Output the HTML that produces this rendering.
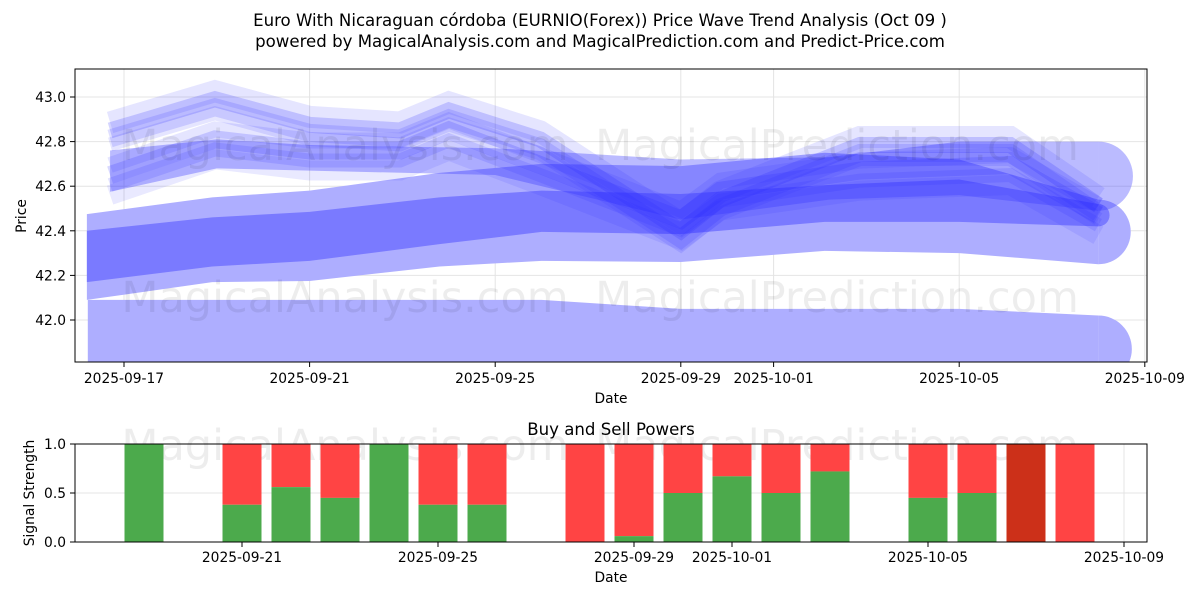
<!DOCTYPE html>
<html><head><meta charset="utf-8"><style>
body{margin:0;background:#fff;}
svg{display:block;font-family:"DejaVu Sans","Liberation Sans",sans-serif;}
</style></head><body>
<svg id="c" width="1200" height="600" xmlns="http://www.w3.org/2000/svg"></svg>
<script>
const tickDays=[0,4,8,12,14,18,22];
const tickLabels=["2025-09-17","2025-09-21","2025-09-25","2025-09-29","2025-10-01","2025-10-05","2025-10-09"];
const botTickDays=[4,8,12,14,18,22];
const botTickLabels=["2025-09-21","2025-09-25","2025-09-29","2025-10-01","2025-10-05","2025-10-09"];
const priceTicks=[42.0,42.2,42.4,42.6,42.8,43.0];
const bandDays=[-0.8,1.9,4.0,6.8,9.0,12.0,15.1,18.0,21.0];
const midTop=[42.475,42.55,42.58,42.66,42.70,42.69,42.75,42.72,42.54];
const midBot=[42.09,42.17,42.175,42.24,42.265,42.26,42.31,42.30,42.25];
const innerTop=[42.40,42.46,42.485,42.55,42.58,42.565,42.605,42.63,42.52];
const innerBot=[42.17,42.24,42.265,42.34,42.395,42.385,42.44,42.44,42.42];
const lowDays=[-0.78,4,9,12,18,21];
const lowTop=[42.09,42.09,42.09,42.05,42.05,42.02];
const aDays=[-0.3,2.0,4.0,8.0,12.0,15.2,18.0,21.0];
const aTop=[42.76,42.81,42.785,42.77,42.72,42.73,42.80,42.80];
const aBot=[42.575,42.68,42.67,42.65,42.45,42.54,42.56,42.49];
const waveDays=[-0.3,1.96,4.0,5.95,7.0,8.97,12.0,12.85,15.86,19.1,21.0];
const wave1=[42.85,42.99,42.875,42.85,42.94,42.81,42.40,42.54,42.785,42.785,42.515];
const wave2=[42.65,42.81,42.76,42.76,42.85,42.695,42.45,42.58,42.67,42.695,42.47];
const barDays=[2,4,5,6,7,8,9,11,12,13,14,15,16,18,19,20,21];
const buyVals=[1,0.38,0.56,0.45,1,0.38,0.38,0,0.06,0.5,0.67,0.5,0.72,0.45,0.5,0,0];
const sigTicks=[0,0.5,1.0];

const S=document.getElementById('c');const NS="http://www.w3.org/2000/svg";
function el(t,a,p){const e=document.createElementNS(NS,t);for(const k in a)e.setAttribute(k,a[k]);(p||S).appendChild(e);return e;}
const X=d=>124+d*46.4, Y=p=>320-(p-42)*223;
const BX=d=>242+(d-4)*49, BY=v=>542-v*98;
const FS=13.8;
let t=el('text',{x:600,y:26,'text-anchor':'middle','font-size':16.6});t.textContent="Euro With Nicaraguan córdoba (EURNIO(Forex)) Price Wave Trend Analysis (Oct 09 )";

t=el('text',{x:600,y:47,'text-anchor':'middle','font-size':16.6});t.textContent="powered by MagicalAnalysis.com and MagicalPrediction.com and Predict-Price.com";

const cp=el('clipPath',{id:'cp'});el('rect',{x:75,y:69,width:1072,height:293},cp);
const g=el('g',{'clip-path':'url(#cp)'});

priceTicks.forEach(p=>el('line',{x1:75,x2:1147,y1:Y(p),y2:Y(p),stroke:'#e4e4e4'},g));
tickDays.forEach(d=>el('line',{x1:X(d),x2:X(d),y1:69,y2:362,stroke:'#e4e4e4'},g));
function band(days,top,bot,fill,name){
  let pts=days.map((d,i)=>X(d)+','+Y(top[i]));
  for(let i=days.length-1;i>=0;i--)pts.push(X(days[i])+','+Y(bot[i]));
  const p=el('polygon',{points:pts.join(' '),fill:fill},g);
  
  const n=days.length-1,cy=(Y(top[n])+Y(bot[n]))/2,r=(Y(bot[n])-Y(top[n]))/2;
  el('path',{d:`M${X(days[n])},${cy-r} A${r},${r} 0 0 1 ${X(days[n])},${cy+r}Z`,fill:fill},g);
}
band(lowDays,lowTop,lowDays.map(()=>41.72),'rgb(174,174,255)','lower-band');
band(bandDays,midTop,midBot,'rgb(174,174,255)','middle-band');
band(bandDays,innerTop,innerBot,'rgb(122,122,255)','inner-band');
band(aDays,aTop,aBot,'rgba(60,60,255,0.35)','upper-band');
function wave(vals,off,w,op,name){
  const p=el('polyline',{points:waveDays.map((d,i)=>X(d)+','+(Y(vals[i])+off)).join(' '),fill:'none',stroke:'rgb(40,40,255)','stroke-width':w,'stroke-opacity':op,'stroke-linejoin':'miter'},g);
  
}
[[-8,22,0.12],[0,16,0.2],[8,18,0.15],[14,14,0.12]].forEach((o,i)=>wave(wave1,o[0],o[1],o[2],'wave-upper-'+i));
[[-10,16,0.12],[0,18,0.18],[10,14,0.14],[20,20,0.1]].forEach((o,i)=>wave(wave2,o[0],o[1],o[2],'wave-lower-'+i));
[[345,160],[837,160],[345,312],[837,312],[345,460],[837,460]].forEach((w,i)=>{
  const tx=el('text',{x:w[0],y:w[1],'text-anchor':'middle','font-size':43,fill:'rgba(0,0,0,0.07)'});
  tx.textContent=i%2?"MagicalPrediction.com":"MagicalAnalysis.com";
  
});
el('rect',{x:75,y:69,width:1072,height:293,fill:'none',stroke:'#000'});
priceTicks.forEach(p=>{el('line',{x1:70,x2:75,y1:Y(p),y2:Y(p),stroke:'#000'});
  const tx=el('text',{x:66,y:Y(p)+5,'text-anchor':'end','font-size':FS});tx.textContent=p.toFixed(1);
  });
tickDays.forEach((d,i)=>{el('line',{x1:X(d),x2:X(d),y1:362,y2:367,stroke:'#000'});
  const tx=el('text',{x:X(d),y:383,'text-anchor':'middle','font-size':FS});tx.textContent=tickLabels[i];
  });
t=el('text',{x:611,y:403,'text-anchor':'middle','font-size':FS});t.textContent="Date";

t=el('text',{x:26,y:216,'text-anchor':'middle','font-size':FS,transform:'rotate(-90 26 216)'});t.textContent="Price";

t=el('text',{x:611,y:435,'text-anchor':'middle','font-size':16.6});t.textContent="Buy and Sell Powers";

sigTicks.forEach(v=>el('line',{x1:75,x2:1147,y1:BY(v),y2:BY(v),stroke:'#e4e4e4'}));
botTickDays.forEach(d=>el('line',{x1:BX(d),x2:BX(d),y1:444,y2:542,stroke:'#e4e4e4'}));
barDays.forEach((d,i)=>{
  const v=buyVals[i],x=BX(d)-19.5;
  const r=el('rect',{x:x,y:BY(1),width:39,height:BY(v)-BY(1),fill:d===20?'#cc3019':'#ff4444'});
  
  const gr=el('rect',{x:x,y:BY(v),width:39,height:BY(0)-BY(v),fill:'#4caa4c'});
  
});
el('rect',{x:75,y:444,width:1072,height:98,fill:'none',stroke:'#000'});
sigTicks.forEach(v=>{el('line',{x1:70,x2:75,y1:BY(v),y2:BY(v),stroke:'#000'});
  const tx=el('text',{x:66,y:BY(v)+5,'text-anchor':'end','font-size':FS});tx.textContent=v.toFixed(1);
  });
botTickDays.forEach((d,i)=>{el('line',{x1:BX(d),x2:BX(d),y1:542,y2:547,stroke:'#000'});
  const tx=el('text',{x:BX(d),y:562,'text-anchor':'middle','font-size':FS});tx.textContent=botTickLabels[i];
  });
t=el('text',{x:611,y:582,'text-anchor':'middle','font-size':FS});t.textContent="Date";

t=el('text',{x:34,y:493,'text-anchor':'middle','font-size':FS,transform:'rotate(-90 34 493)'});t.textContent="Signal Strength";

</script>
</body></html>
